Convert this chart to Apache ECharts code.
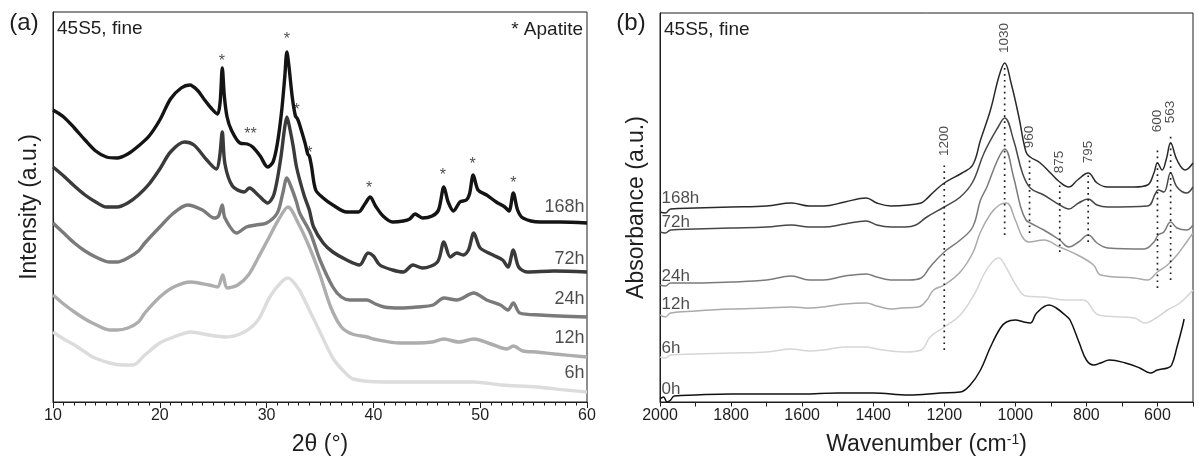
<!DOCTYPE html>
<html>
<head>
<meta charset="utf-8">
<script src="https://cdn.jsdelivr.net/npm/echarts/dist/echarts.min.js"></script>
<style>
html,body{margin:0;padding:0;background:#fff;}
#chart{width:1198px;height:464px;}
</style>
</head>
<body>
<div id="chart"></div>
<script>
// ---------- Panel (a): XRD, 2θ (deg) vs intensity (a.u.) ----------
const xrd168h = [[10,292],[11,285],[12,274],[13,262],[14,251],[15,245],[16,244],[17,248],[18,256],[19,266],[20,282],[21,303],[22,314],[22.8,317],[23.5,312],[24.2,302],[24.8,294],[25.4,288],[25.65,300],[25.85,334],[26.05,305],[26.3,285],[26.7,272],[27.5,259],[28.2,258],[28.7,255],[29.4,246],[30.1,235],[30.6,240],[31,258],[31.4,290],[31.7,325],[31.9,350],[32.1,335],[32.4,305],[32.7,286],[32.9,283],[33.1,277],[33.6,259],[33.85,248],[34.0,246],[34.2,236],[34.6,212],[35.3,204],[36.2,197],[37.5,190],[38.6,190],[39.2,198],[39.7,205],[40.2,196],[40.9,186],[41.8,180],[42.8,181],[43.4,183],[43.9,188],[44.6,184],[45.5,186],[46.1,192],[46.6,215],[47.0,200],[47.5,191],[48.1,200],[48.7,202],[49.0,208],[49.35,227],[49.8,212],[50.6,207],[51.5,200],[52.3,195],[52.7,191],[53.1,209],[53.5,192],[54.0,184],[55.6,180],[57.5,180],[60,179]];
const xrd72h = [[10,235],[11,226],[12,216],[13,207],[14,200],[15,195],[16,195],[17,199],[18,207],[19,218],[20,233],[21,250],[22.3,260],[23.2,257],[24.4,242],[25.3,233],[25.6,245],[25.85,270],[26.1,238],[26.8,216],[27.9,210],[28.4,214],[29.2,207],[30.1,199],[30.7,208],[31.3,242],[31.7,275],[31.9,285],[32.2,272],[32.5,255],[32.8,235],[33.5,207],[34.0,192],[34.4,175],[35.3,159],[36.2,150],[37.5,142],[38.7,137],[39.5,149],[40,146],[40.6,137],[41.8,132],[42.8,130],[43.7,137],[44.6,134],[46,140],[46.6,160],[47.2,145],[47.8,149],[48.4,147],[48.9,152],[49.4,169],[50,154],[51.2,147],[52.1,142],[52.6,135],[53.1,152],[53.6,135],[54.4,130],[56.9,131],[60,130]];
const xrd24h = [[10,179],[11,169],[12,159],[13,151],[14,145],[15.3,140],[16,140],[17,144],[18,151],[18.6,159],[20,175],[21.3,189],[22.6,197],[24,192],[25.1,184],[25.5,186],[25.85,197],[26.1,184],[27.2,169],[28.1,175],[29,177],[30,179],[31,189],[31.5,208],[31.9,224],[32.3,215],[32.8,200],[33.1,189],[34.1,169],[35,142],[36.2,115],[37,105],[37.8,102],[39.4,102],[40.2,98],[41,95],[42.5,94],[44.1,95],[45.6,97],[46.6,104],[47.8,102],[49.4,109],[50.6,102],[51.9,97],[52.6,92],[53.1,99],[53.7,89],[55.6,87],[60,85]];
const xrd12h = [[10,107],[11,98],[12,90],[13,83],[13.7,79],[15.3,72],[16,72],[17,74],[18,80],[18.6,89],[20,105],[21.3,115],[22.9,120],[24.6,117],[25.4,115],[25.9,127],[26.3,114],[27.3,117],[28.3,127],[29.2,144],[30.1,162],[31.1,182],[32,195],[33,178],[34,155],[35,127],[36,95],[37,75],[38,68],[39.4,65],[40,63],[42.5,59],[44,59],[45.5,60],[46.6,63],[48,60],[49.4,63],[51,58],[52.5,53],[53.1,56],[54,51],[55.3,50],[57,48],[60,45]];
const xrd6h = [[10,70],[11,63],[12,57],[13,50],[13.7,45],[15.3,39],[16.5,37],[17.5,37],[18.6,47],[20,59],[21.3,65],[22.9,70],[24.6,67],[26.2,65],[27.9,70],[29.2,82],[30.3,105],[31.3,119],[32,124],[33,113],[34,92],[35,70],[36.2,44],[37.2,31],[38.1,23],[41,20],[45.6,20],[49.4,20],[52,17],[55.3,15],[58,12],[60,10]];
const xrdNames = ['168h','72h','24h','12h','6h'];
const xrdLabelX = 60;
const xrdLabelV = [195,143,103,64,29];
const starX = [25.8,31.9,32.8,28.5,34.0,39.6,46.5,49.3,53.1];
const starV = [343,365,294,270,251,216,229,240,221];
const starText = ['*','*','*','**','*','*','*','*','*'];

// ---------- Panel (b): FTIR, wavenumber (cm-1) vs absorbance (a.u.) ----------
const ir168h = [[2000,190],[1985,189],[1970,193],[1900,194],[1800,195],[1700,196],[1630,199],[1580,196],[1540,196],[1480,200],[1420,204],[1390,199],[1350,196],[1300,197],[1265,199],[1253,202],[1230,210],[1200,219],[1150,229],[1120,237],[1098,262],[1070,292],[1045,327],[1030,339],[1012,319],[990,285],[970,250],[958,245],[930,239],[901,229],[875,220],[850,215],[825,222],[795,229],[770,219],[740,215],[665,215],[628,217],[610,229],[600,239],[587,232],[575,243],[563,259],[545,242],[522,232],[500,239]];
const ir72h = [[2000,170],[1985,169],[1970,172],[1900,173],[1800,174],[1700,175],[1630,177],[1580,175],[1540,175],[1480,178],[1420,181],[1390,177],[1350,175],[1310,175],[1280,177],[1249,185],[1200,195],[1155,205],[1120,220],[1088,249],[1050,274],[1030,284],[1005,262],[980,229],[958,214],[920,207],[875,197],[850,193],[822,199],[795,203],[770,197],[740,195],[628,196],[605,209],[598,212],[582,210],[563,229],[545,215],[518,209],[500,215]];
const ir24h = [[2000,117],[1985,116],[1970,119],[1900,119],[1800,120],[1700,122],[1630,126],[1580,122],[1540,122],[1480,126],[1420,128],[1390,125],[1350,122],[1300,122],[1265,124],[1240,135],[1200,150],[1155,162],[1120,175],[1098,202],[1080,215],[1050,242],[1030,253],[1005,225],[985,195],[970,182],[958,179],[920,172],[875,162],[850,155],[822,160],[795,167],[770,159],[740,154],[637,153],[610,160],[598,167],[582,170],[563,180],[545,174],[518,172],[500,177]];
const ir12h = [[2000,87],[1985,85],[1970,89],[1900,91],[1800,93],[1700,94],[1630,95],[1580,94],[1540,95],[1480,98],[1420,99],[1390,96],[1350,93],[1320,94],[1273,95],[1249,102],[1230,112],[1200,117],[1155,130],[1120,149],[1098,170],[1070,188],[1045,197],[1025,199],[1000,182],[980,165],[962,160],[920,162],[875,155],[825,147],[780,137],[760,127],[665,124],[628,122],[600,130],[572,137],[545,147],[518,160],[500,169]];
const ir6h = [[2000,45],[1985,44],[1970,47],[1900,48],[1800,49],[1700,50],[1630,53],[1580,51],[1540,52],[1480,55],[1420,55],[1390,53],[1350,51],[1310,50],[1265,52],[1240,65],[1200,75],[1155,87],[1115,108],[1088,128],[1065,140],[1047,144],[1025,134],[995,115],[970,106],[920,105],[855,102],[808,102],[765,87],[665,84],[635,79],[600,85],[572,92],[537,99],[500,112]];
const ir0h = [[2000,3],[1990,5],[1980,0],[1970,2],[1960,6],[1900,7],[1800,8],[1700,8],[1600,8],[1500,9],[1400,9],[1300,7],[1210,9],[1155,10],[1127,17],[1098,32],[1070,55],[1042,74],[1025,80],[1000,82],[976,80],[958,79],[940,89],[905,97],[885,94],[860,87],[846,82],[820,59],[800,42],[780,37],[760,39],[735,42],[690,39],[650,34],[620,29],[600,32],[572,34],[560,37],[545,55],[530,75],[525,83]];
const irNames = ['168h','72h','24h','12h','6h','0h'];
const irLabelX = 2000;
const irLabelV = [204,180,126,98,54,13];
const peakWn = [1200,1030,960,875,795,600,563];
const peakText = ['1200','1030','960','875','795','600','563'];
const peakLow = [52,167,169,150,160,114,122];
const peakHigh = [239,335,245,220,227,255,269];
const peakLabelV = [261,364,265,240,250,281,290];

const FONT = '"Liberation Sans", Arial, sans-serif';
const INK = '#1e1e1e';

const xrdColors = ['#141414','#3a3a3a','#7a7a7a','#adadad','#dcdcdc'];
const irColors = ['#2a2a2a','#474747','#7a7a7a','#aaaaaa','#d6d6d6','#111111'];
const xrdData = [xrd168h, xrd72h, xrd24h, xrd12h, xrd6h];
const irData = [ir168h, ir72h, ir24h, ir12h, ir6h, ir0h];

const series = [];
for (let i = xrdData.length - 1; i >= 0; i--) {
  series.push({
    type: 'line', xAxisIndex: 0, yAxisIndex: 0, data: xrdData[i], name: 'XRD ' + xrdNames[i],
    showSymbol: false, smooth: 0.3, silent: true,
    lineStyle: { color: xrdColors[i], width: 3.4 }
  });
}
for (let i = irData.length - 1; i >= 0; i--) {
  series.push({
    type: 'line', xAxisIndex: 1, yAxisIndex: 1, data: irData[i], name: 'IR ' + irNames[i],
    showSymbol: false, smooth: 0.4, silent: true,
    lineStyle: { color: irColors[i], width: 1.5 }
  });
}
peakWn.forEach((w, i) => {
  series.push({
    type: 'line', xAxisIndex: 1, yAxisIndex: 1, silent: true, showSymbol: false,
    data: [[w, peakLow[i]], [w, peakHigh[i]]],
    lineStyle: { color: INK, width: 1.7, type: [1.7, 4.2] }
  });
});
const invisible = { color: 'rgba(0,0,0,0)' };
series.push({
  type: 'scatter', xAxisIndex: 0, yAxisIndex: 0, silent: true, symbolSize: 1, itemStyle: invisible,
  data: xrdNames.map((n, i) => ({ name: n, value: [xrdLabelX, xrdLabelV[i]] })),
  label: { show: true, formatter: '{b}', position: 'left', distance: 2, fontSize: 18, color: INK, fontFamily: FONT }
});
series.push({
  type: 'scatter', xAxisIndex: 0, yAxisIndex: 0, silent: true, symbolSize: 1, itemStyle: invisible,
  data: starX.map((x, i) => ({ name: starText[i], value: [x, starV[i]] })),
  label: { show: true, formatter: '{b}', position: 'inside', offset: [0, 3], fontSize: 16, color: INK, fontFamily: FONT }
});
series.push({
  type: 'scatter', xAxisIndex: 1, yAxisIndex: 1, silent: true, symbolSize: 1, itemStyle: invisible,
  data: irNames.map((n, i) => ({ name: n, value: [irLabelX, irLabelV[i]] })),
  label: { show: true, formatter: '{b}', position: 'right', distance: 1, fontSize: 17, color: INK, fontFamily: FONT }
});
series.push({
  type: 'scatter', xAxisIndex: 1, yAxisIndex: 1, silent: true, symbolSize: 1, itemStyle: invisible,
  data: peakWn.map((w, i) => ({ name: peakText[i], value: [w, peakLabelV[i]] })),
  label: { show: true, formatter: '{b}', position: 'inside', rotate: 90, fontSize: 13.5, color: INK, fontFamily: FONT }
});

const axisCommon = {
  axisLine: { show: true, lineStyle: { color: INK, width: 1 } },
  splitLine: { show: false },
  nameLocation: 'middle',
  nameTextStyle: { fontSize: 23, color: INK, fontFamily: FONT }
};

const option = {
  animation: false,
  textStyle: { fontFamily: FONT },
  grid: [
    { left: 53, top: 12, width: 534, height: 390, show: true, borderColor: INK, borderWidth: 1, backgroundColor: 'transparent' },
    { left: 660, top: 13, width: 533, height: 389, show: true, borderColor: INK, borderWidth: 1, backgroundColor: 'transparent' }
  ],
  xAxis: [
    Object.assign({}, axisCommon, {
      gridIndex: 0, type: 'value', min: 10, max: 60, interval: 10,
      axisTick: { show: true, inside: false, length: 6, lineStyle: { color: INK } },
      minorTick: { show: true, splitNumber: 10, length: 3.5, lineStyle: { color: INK } },
      axisLabel: { fontSize: 16, color: INK, margin: 6, fontFamily: FONT },
      name: '2θ (°)', nameGap: 31
    }),
    Object.assign({}, axisCommon, {
      gridIndex: 1, type: 'value', min: 500, max: 2000, interval: 100, inverse: true,
      axisTick: { show: true, inside: false, length: 4.5, lineStyle: { color: INK } },
      axisLabel: { fontSize: 16, color: INK, margin: 6, fontFamily: FONT,
        formatter: v => (v % 200 === 0 ? String(v) : '') },
      name: 'Wavenumber (cm{sup|-1})', nameGap: 31,
      nameTextStyle: { fontSize: 23, color: INK, fontFamily: FONT,
        rich: { sup: { fontSize: 14, color: INK, fontFamily: FONT, verticalAlign: 'top', padding: [0, 0, 10, 0] } } }
    })
  ],
  yAxis: [
    Object.assign({}, axisCommon, {
      gridIndex: 0, type: 'value', min: 0, max: 390,
      axisTick: { show: false }, axisLabel: { show: false },
      name: 'Intensity (a.u.)', nameGap: 12
    }),
    Object.assign({}, axisCommon, {
      gridIndex: 1, type: 'value', min: 0, max: 389,
      axisTick: { show: false }, axisLabel: { show: false },
      name: 'Absorbance (a.u.)', nameGap: 12
    })
  ],
  graphic: [
    { type: 'text', x: 24, y: 23, style: { text: '(a)', font: '24px ' + FONT, fill: INK, textAlign: 'center', textVerticalAlign: 'middle' } },
    { type: 'text', x: 631, y: 23, style: { text: '(b)', font: '24px ' + FONT, fill: INK, textAlign: 'center', textVerticalAlign: 'middle' } },
    { type: 'text', x: 57, y: 29, style: { text: '45S5, fine', font: '19px ' + FONT, fill: INK, textAlign: 'left', textVerticalAlign: 'middle' } },
    { type: 'text', x: 664, y: 30, style: { text: '45S5, fine', font: '19px ' + FONT, fill: INK, textAlign: 'left', textVerticalAlign: 'middle' } },
    { type: 'text', x: 583, y: 30, style: { text: '* Apatite', font: '19px ' + FONT, fill: INK, textAlign: 'right', textVerticalAlign: 'middle' } }
  ],
  series: series
};

const chart = echarts.init(document.getElementById('chart'), null, { renderer: 'canvas' });
chart.setOption(option);
</script>
</body>
</html>
